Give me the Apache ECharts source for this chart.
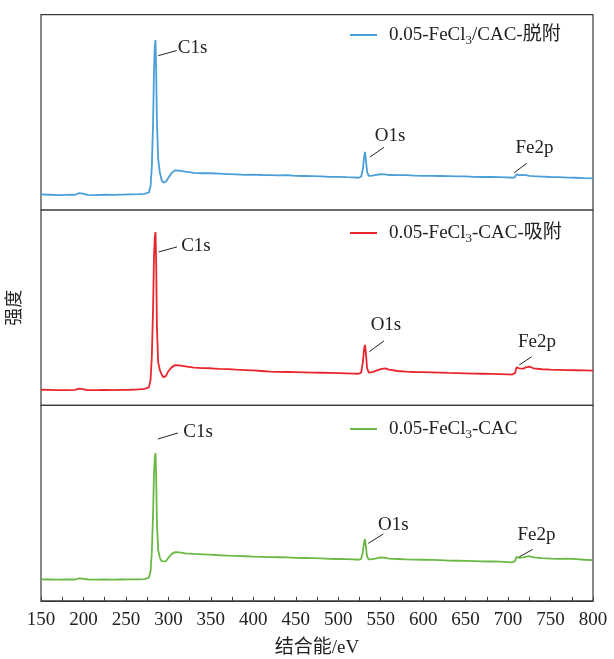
<!DOCTYPE html>
<html>
<head>
<meta charset="utf-8">
<script src="https://cdn.jsdelivr.net/npm/echarts@6/dist/echarts.min.js"></script>
<style>html,body{margin:0;padding:0;background:#fff}#c{width:614px;height:659px}</style>
</head>
<body>
<div id="c"></div>
<script>
// Binding energy (eV)
const energy = [150,160,170,180,190,195,197,199,205,215,225,235,245,255,265,272,277,279,280.5,282,283,284,284.8,285.6,286.5,288,290,292,294,297,300,304,308,313,320,330,340,350,360,370,380,390,400,410,420,430,440,450,460,470,480,490,500,510,518,524,527,529,530.5,531.5,532.5,534,536,540,545,550,555,560,570,580,590,600,610,620,630,640,650,660,670,680,690,700,705,708,710,711.5,713,715,718,721,725,730,740,750,760,770,780,790,800];
// Intensities (arbitrary units, each panel 0-100)
const desorbed = [8.0,7.8,7.6,7.7,7.8,8.6,9.6,8.4,7.7,7.6,
  7.8,7.7,7.9,8.0,8.1,8.3,9.0,12,22,45,
  70,84,87,72,45,26,19,15.5,14.0,14.5,
  16.5,19,20.3,20.2,19.6,19.0,18.8,18.8,18.6,18.4,
  18.2,18.0,18.1,17.9,17.8,17.7,17.8,17.5,17.4,17.3,
  17.2,17.0,17.0,16.8,16.7,16.5,17.0,21,27,29.8,
  26,19.5,17.5,17.6,18.0,18.3,18.2,17.9,17.8,17.8,
  17.6,17.5,17.5,17.4,17.3,17.2,17.2,17.0,16.9,16.9,
  16.8,16.7,16.5,16.8,18.2,18.8,17.8,17.5,17.9,17.8,
  17.5,17.3,17.1,16.9,16.8,16.6,16.5,16.3,16.2];
const adsorbed = [8.0,7.9,7.8,7.8,7.9,8.6,9.5,8.3,7.8,7.8,
  7.9,7.8,7.9,8.0,8.2,8.5,9.2,13,25,50,
  75,86,88.7,74,40,22,18,16,14.4,15.0,
  17.5,19.6,20.6,20.5,20.0,19.3,19.1,19.0,18.7,18.6,
  18.3,18.1,17.9,17.6,17.3,17.2,17.1,17.0,16.9,16.8,
  16.7,16.6,16.5,16.4,16.3,16.2,16.8,22,29,31,
  27,19,16.8,17.0,17.8,18.6,18.9,18.3,17.6,17.3,
  17.1,17.0,16.9,16.8,16.6,16.5,16.4,16.3,16.2,16.1,
  16.0,15.9,15.8,16.5,19.5,20.3,19.0,18.5,18.8,19.5,
  19.8,19.0,18.5,18.3,18.2,18.1,18.0,17.9,17.8];
const pristine = [11.0,10.9,10.8,10.9,10.9,11.5,12.3,11.3,10.9,10.8,
  10.9,10.8,10.9,11.0,11.0,11.1,11.8,15,25,45,
  65,73,75.6,64,40,26,22,20.3,19.8,20.2,
  22.0,24.0,24.9,24.8,24.3,24.0,23.8,23.6,23.3,23.1,
  23.0,22.8,22.6,22.5,22.4,22.3,22.2,22.0,21.9,21.8,
  21.7,21.5,21.4,21.3,21.2,21.0,21.5,25,30,31.6,
  28,22.5,21.2,21.3,21.7,22.2,22.0,21.6,21.4,21.2,
  21.1,21.0,20.9,20.8,20.6,20.5,20.4,20.3,20.2,20.1,
  20.0,19.8,19.7,20.3,22.5,23.1,22.0,21.6,22.2,22.6,
  22.8,22.2,21.8,21.6,21.5,21.6,21.3,21.0,20.8];
const seriesNames = ['0.05-FeCl3/CAC-脱附','0.05-FeCl3-CAC-吸附','0.05-FeCl3-CAC'];
const seriesColors = ['#4a9fd9','#e8262b','#6ab845'];
const peakNames = ['C1s','O1s','Fe2p'];
// annotation anchors per panel: [lineStart, lineEnd, textCenter] in data coords
const annotations = [
  [[[288.1,79.0],[309.8,81.6],[328.4,82.9]], [[537.4,27.1],[553.9,32.1],[561,37.9]], [[707.3,19.1],[721.9,23.9],[731,31.7]]],
  [[[288.4,78.5],[310.1,81.1],[332.5,81.6]], [[536.6,27.5],[553.9,33.0],[556.2,41.1]], [[713.2,20.7],[727.8,24.9],[734,32.4]]],
  [[[287.7,82.8],[311.3,85.9],[334.9,86.4]], [[535.4,29.4],[553.1,34.2],[565,38.8]], [[713.2,22.5],[729,26.3],[733.4,33.6]]]
];
const xTickMin = 150, xTickMax = 800, xTickStep = 50;
const xAxisTitle = '结合能/eV';
const yAxisTitle = '强度';

if (energy.length !== desorbed.length || energy.length !== adsorbed.length || energy.length !== pristine.length) {
  throw new Error('length mismatch ' + energy.length + ' ' + desorbed.length + ' ' + adsorbed.length + ' ' + pristine.length);
}

const FONT = "'Liberation Serif','Times New Roman','Noto Sans CJK SC',serif";
const TXT = '#222';
const panelTop = [14.6, 210, 405.4];
const panelH = 195.4;
const valuesList = [desorbed, adsorbed, pristine];

const grids = panelTop.map(t => ({left: 41, right: 21, top: t, height: panelH, show: true,
  outerBoundsMode: 'none', containLabel: false,
  borderColor: '#3a3a3a', borderWidth: 1.2, backgroundColor: 'transparent'}));
const xAxes = [0,1,2].map(i => ({
  type: 'value', gridIndex: i, min: xTickMin, max: xTickMax, interval: xTickStep,
  show: i === 2,
  axisLine: {show: true, onZero: false, lineStyle: {color: '#3a3a3a', width: 1.2}},
  axisTick: {show: true, inside: true, length: 4, lineStyle: {color: '#3a3a3a'}},
  minorTick: {show: true, splitNumber: 2, length: 4, lineStyle: {color: '#3a3a3a'}},
  splitLine: {show: false},
  axisLabel: {show: true, color: TXT, fontFamily: FONT, fontSize: 19, margin: 10},
  name: i === 2 ? xAxisTitle : '', nameLocation: 'middle', nameGap: 38,
  nameTextStyle: {color: TXT, fontFamily: FONT, fontSize: 19}
}));
const yAxes = [0,1,2].map(i => ({
  type: 'value', gridIndex: i, min: 0, max: 100,
  axisLine: {show: false}, axisTick: {show: false}, axisLabel: {show: false}, splitLine: {show: false},
  name: i === 1 ? yAxisTitle : '', nameLocation: 'middle', nameGap: 17, nameRotate: 90,
  nameTextStyle: {color: TXT, fontFamily: FONT, fontSize: 18}
}));
const series = [0,1,2].map(i => ({
  name: seriesNames[i], type: 'line', xAxisIndex: i, yAxisIndex: i,
  data: energy.map((e, k) => [e, valuesList[i][k]]),
  showSymbol: false, symbol: 'none', smooth: false,
  lineStyle: {color: seriesColors[i], width: 1.8}, itemStyle: {color: seriesColors[i]},
  animation: false, silent: true,
  markLine: {
    silent: true, symbol: ['none','none'], animation: false,
    lineStyle: {color: '#222', width: 1, type: 'solid'}, label: {show: false},
    data: annotations[i].map(a => [{coord: a[0]}, {coord: a[1]}])
  },
  markPoint: {
    silent: true, animation: false, symbol: 'rect', symbolSize: 1,
    itemStyle: {color: 'rgba(0,0,0,0)'},
    data: annotations[i].map((a, j) => ({coord: a[2], value: peakNames[j],
      label: {show: true, position: 'inside', formatter: peakNames[j], color: TXT, fontFamily: FONT, fontSize: 19}}))
  }
}));
const legendTops = [23, 221, 417];
const legends = [0,1,2].map(i => ({
  data: [seriesNames[i]], left: 350, top: legendTops[i], orient: 'horizontal', padding: 0,
  icon: 'rect', itemWidth: 27, itemHeight: 2, itemGap: 10,
  selectedMode: false,
  formatter: n => n.replace('Cl3', 'Cl{sub|3}'),
  textStyle: {color: TXT, fontFamily: FONT, fontSize: 19, lineHeight: 24, padding: [0,0,0,7],
    rich: {sub: {fontSize: 13, fontFamily: FONT, color: TXT, verticalAlign: 'top', lineHeight: 13, padding: [11,0,0,0]}}}
}));

const chart = echarts.init(document.getElementById('c'), null, {renderer: 'canvas'});
chart.setOption({
  animation: false,
  backgroundColor: '#fff',
  grid: grids, xAxis: xAxes, yAxis: yAxes, series: series, legend: legends
});
</script>
</body>
</html>
